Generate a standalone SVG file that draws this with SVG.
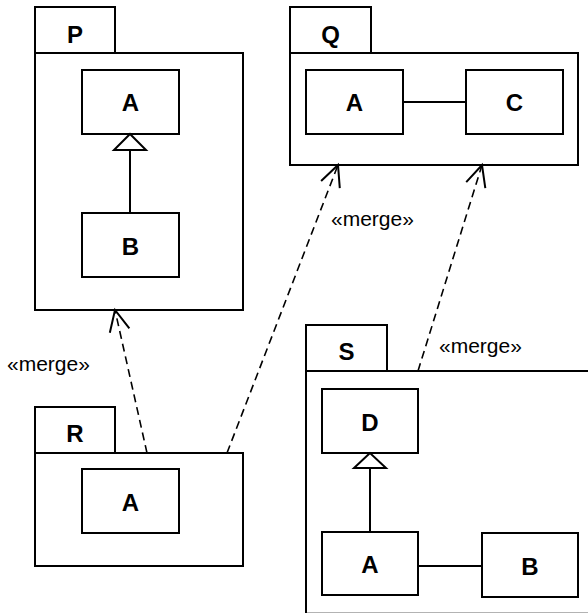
<svg xmlns="http://www.w3.org/2000/svg" width="588" height="613" viewBox="0 0 588 613">
<style>
.pk{fill:#fff;stroke:#000;stroke-width:2}
.cl{fill:#fff;stroke:#000;stroke-width:2}
.ln{fill:none;stroke:#000;stroke-width:2}
.tri{fill:#fff;stroke:#000;stroke-width:2}
.dep{fill:none;stroke:#000;stroke-width:1.6;stroke-dasharray:8 5}
.nm{font-family:"Liberation Sans",Arial,sans-serif;font-weight:bold;font-size:24px;text-anchor:middle;fill:#000}
.st{font-family:"Liberation Sans",Arial,sans-serif;font-size:21px;fill:#000}
</style>
<defs>
<marker id="open" markerUnits="userSpaceOnUse" markerWidth="30" markerHeight="30" viewBox="-25 -15 30 30" refX="0" refY="0" orient="auto">
<path d="M -21 -10 L 0 0 L -21 10" fill="none" stroke="#000" stroke-width="2"/>
</marker>
</defs>
<rect width="588" height="613" fill="#fff"/>
<g id="P">
<rect class="pk" x="35" y="7" width="80" height="46"/>
<rect class="pk" x="35" y="53" width="208" height="257"/>
<text class="nm" x="75" y="43">P</text>
<g id="P_A"><rect class="cl" x="82" y="70" width="97" height="64"/><text class="nm" x="130.5" y="111">A</text></g>
<g id="P_B"><rect class="cl" x="82" y="213" width="97" height="64"/><text class="nm" x="130.5" y="255">B</text></g>
<line class="ln" x1="130" y1="150" x2="130" y2="213"/>
<polygon class="tri" points="130,134 114,150 146,150"/>
</g>
<g id="Q">
<rect class="pk" x="290" y="7" width="81" height="46"/>
<rect class="pk" x="290" y="53" width="288" height="112"/>
<text class="nm" x="330.5" y="43">Q</text>
<g id="Q_A"><rect class="cl" x="306" y="70" width="97" height="64"/><text class="nm" x="354.5" y="111">A</text></g>
<g id="Q_C"><rect class="cl" x="466" y="70" width="97" height="64"/><text class="nm" x="514.5" y="111">C</text></g>
<line class="ln" x1="403" y1="102" x2="466" y2="102"/>
</g>
<g id="R">
<rect class="pk" x="35" y="407" width="80" height="46"/>
<rect class="pk" x="35" y="453" width="208" height="113"/>
<text class="nm" x="75" y="442">R</text>
<g id="R_A"><rect class="cl" x="82" y="469" width="97" height="64"/><text class="nm" x="130.5" y="511">A</text></g>
</g>
<g id="S">
<rect class="pk" x="306" y="325" width="81" height="46"/>
<rect class="pk" x="306" y="371" width="300" height="242.7"/>
<text class="nm" x="346.5" y="360">S</text>
<g id="S_D"><rect class="cl" x="322" y="389" width="96" height="64"/><text class="nm" x="370" y="431">D</text></g>
<g id="S_A"><rect class="cl" x="322" y="532" width="96" height="63"/><text class="nm" x="370" y="573">A</text></g>
<g id="S_B"><rect class="cl" x="482" y="533" width="96" height="64"/><text class="nm" x="530" y="575">B</text></g>
<line class="ln" x1="370" y1="468" x2="370" y2="532"/>
<polygon class="tri" points="370,453 354,468 386,468"/>
<line class="ln" x1="418" y1="566" x2="482" y2="566"/>
</g>
<g id="connectors">
<line class="dep" x1="147" y1="453" x2="115" y2="310" marker-end="url(#open)"/>
<line class="dep" x1="227" y1="453" x2="338" y2="165" marker-end="url(#open)"/>
<line class="dep" x1="418" y1="371" x2="482" y2="165" marker-end="url(#open)"/>
<text class="st" x="7" y="371">«merge»</text>
<text class="st" x="331" y="226">«merge»</text>
<text class="st" x="439" y="353">«merge»</text>
</g>
</svg>
